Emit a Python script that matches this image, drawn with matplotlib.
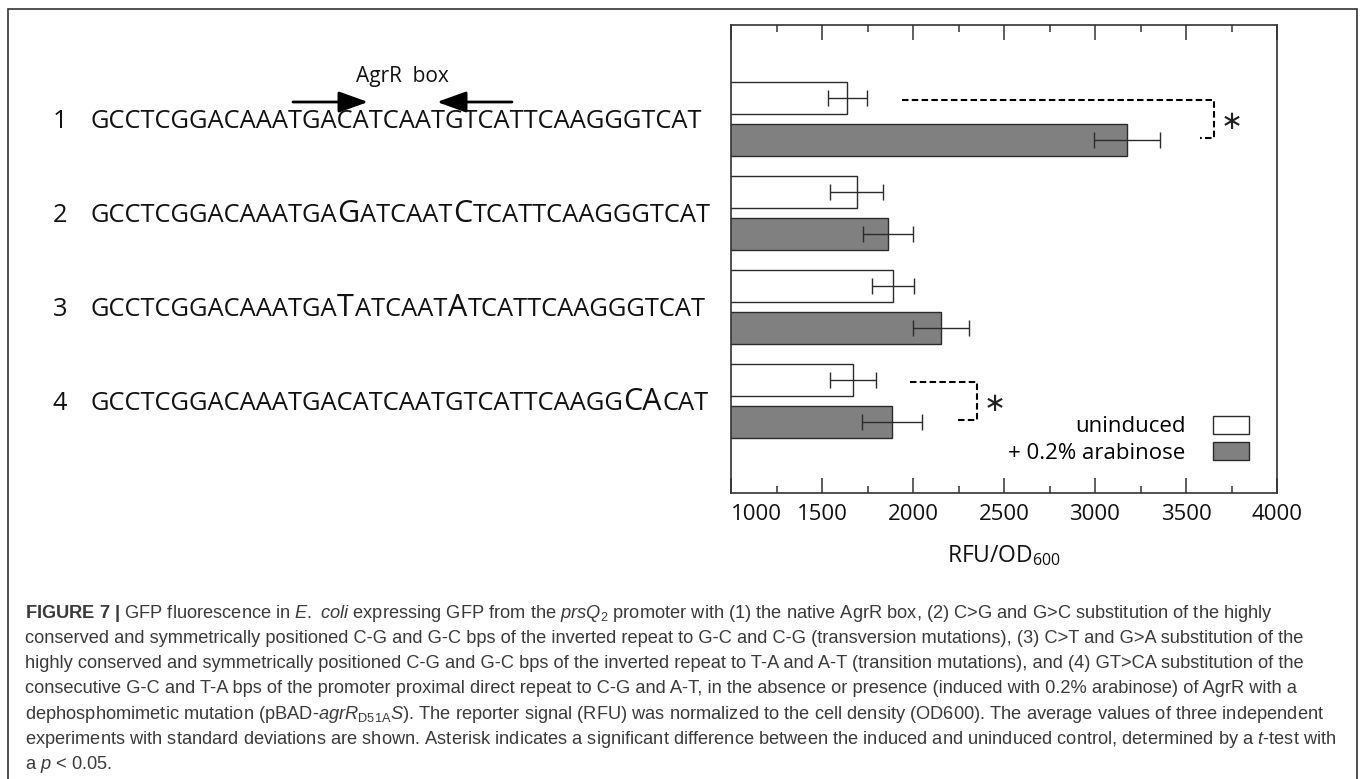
import matplotlib
matplotlib.use("Agg")
import matplotlib.pyplot as plt
import matplotlib.patches as mpatches
import matplotlib.transforms as mtransforms
from matplotlib import font_manager

# ---------------------------------------------------------------------------
# data
# ---------------------------------------------------------------------------
groups = [1, 2, 3, 4]
uninduced = [1640, 1690, 1890, 1670]
uninduced_sd = [107, 147, 117, 126]
induced = [3175, 1863, 2153, 1885]
induced_sd = [180, 138, 155, 167]

x_ticks = [1000, 1500, 2000, 2500, 3000, 3500, 4000]
x_minor = [1250, 1750, 2250, 2750, 3250, 3750]

row_labels = ["1", "2", "3", "4"]
# each row: list of (text, enlarged?) pieces
rows = [
    [("GCCTCGGACAAATGACATCAATGTCATTCAAGGGTCAT", False)],
    [("GCCTCGGACAAATGA", False), ("G", True), ("ATCAAT", False), ("C", True),
     ("TCATTCAAGGGTCAT", False)],
    [("GCCTCGGACAAATGA", False), ("T", True), ("ATCAAT", False), ("A", True),
     ("TCATTCAAGGGTCAT", False)],
    [("GCCTCGGACAAATGACATCAATGTCATTCAAGG", False), ("CA", True), ("CAT", False)],
]

# significance brackets: group, x start, x of vertical, x end of lower stub, x of star
sig = [(1, 1940, 3652, 3577, 3750), (4, 1985, 2353, 2248, 2448)]

legend_labels = ["uninduced", "+ 0.2% arabinose"]

caption = [
    r"$\mathbf{FIGURE\ 7\ |}$ GFP fluorescence in $\mathit{E.}$ $\mathit{coli}$ expressing GFP from the "
    r"$\mathit{prsQ}_{\mathrm{2}}$ promoter with (1) the native AgrR box, (2) C>G and G>C substitution of the highly",
    "conserved and symmetrically positioned C-G and G-C bps of the inverted repeat to G-C and C-G "
    "(transversion mutations), (3) C>T and G>A substitution of the",
    "highly conserved and symmetrically positioned C-G and G-C bps of the inverted repeat to T-A and A-T "
    "(transition mutations), and (4) GT>CA substitution of the",
    "consecutive G-C and T-A bps of the promoter proximal direct repeat to C-G and A-T, in the absence or "
    "presence (induced with 0.2% arabinose) of AgrR with a",
    r"dephosphomimetic mutation (pBAD-$\mathit{agrR}_{\mathrm{D51A}}\mathit{S}$). The reporter signal (RFU) "
    r"was normalized to the cell density (OD600). The average values of three independent",
    r"experiments with standard deviations are shown. Asterisk indicates a significant difference between "
    r"the induced and uninduced control, determined by a $\mathit{t}$-test with",
    r"a $\mathit{p}$ < 0.05.",
]

# ---------------------------------------------------------------------------
W, H = 1360, 779
GRAY = "#808080"
EDGE = "#2b2b2b"
seq_font = "Open Sans"

names = {f.name for f in font_manager.fontManager.ttflist}
cap_font = "Liberation Sans Narrow" if "Liberation Sans Narrow" in names else "Liberation Sans"
cap_size = 14 if cap_font == "Liberation Sans Narrow" else 13.15

plt.rcParams["font.family"] = [seq_font, "DejaVu Sans"]
plt.rcParams["mathtext.fontset"] = "custom"
plt.rcParams["mathtext.rm"] = cap_font
plt.rcParams["mathtext.it"] = cap_font + ":italic"
plt.rcParams["mathtext.bf"] = cap_font + ":bold"

fig = plt.figure(figsize=(W / 100, H / 100), dpi=100)
ax = fig.add_axes([731 / W, 1 - 493 / H, 546 / W, 468 / H])

off = 0.225
bh = 0.344
y_un = [g - off for g in groups]
y_in = [g + off for g in groups]

ax.barh(y_un, uninduced, height=bh, color="white", edgecolor=EDGE, linewidth=1.0, zorder=2)
ax.barh(y_in, induced, height=bh, color=GRAY, edgecolor=EDGE, linewidth=1.0, zorder=2)
ax.errorbar(uninduced, y_un, xerr=uninduced_sd, fmt="none", ecolor=EDGE,
            elinewidth=1.0, capsize=6, capthick=1.0, zorder=3)
ax.errorbar(induced, y_in, xerr=induced_sd, fmt="none", ecolor=EDGE,
            elinewidth=1.0, capsize=6, capthick=1.0, zorder=3)

# significance brackets
for g, xs, xc, xe, xstar in sig:
    ax.plot([xs, xc, xc, xe], [g - 0.2, g - 0.2, g + 0.2, g + 0.2],
            color="black", lw=1.5, linestyle=(0, (3.1, 1.6)), zorder=3)
    ax.text(xstar, g + 0.03, "\u2217", ha="center", va="center", fontsize=19,
            family="DejaVu Sans", color="#222")

ax.set_xlim(x_ticks[0], x_ticks[-1])
ax.set_ylim(4.98, 0)
ax.set_yticks([])
ax.set_xticks(x_ticks)
ax.set_xticks(x_minor, minor=True)
ax.set_xticklabels([str(t) for t in x_ticks], fontsize=16, color="#111")
ax.get_xticklabels()[0].set_horizontalalignment("left")
ax.tick_params(axis="x", which="both", direction="in", top=True, bottom=True,
               width=1.1, color="#333", pad=8)
ax.tick_params(axis="x", which="major", length=10.8)
ax.tick_params(axis="x", which="minor", length=5.2)
for s in ax.spines.values():
    s.set_linewidth(1.2)
    s.set_color("#333")
ax.set_xlabel(r"RFU/OD$_{\mathregular{600}}$", fontsize=16.5, labelpad=13, color="#111")

handles = [mpatches.Patch(facecolor="white", edgecolor=EDGE, linewidth=1.0),
           mpatches.Patch(facecolor=GRAY, edgecolor=EDGE, linewidth=1.0)]
ax.legend(handles, legend_labels, loc="lower right", bbox_to_anchor=(0.9496, 0.062),
          frameon=False, markerfirst=False, handlelength=1.62, handleheight=0.86,
          handletextpad=1.26, labelspacing=0.22, borderpad=0, borderaxespad=0,
          prop={"family": seq_font, "size": 16})

# ---------------------------------------------------------------------------
# sequences on the left, one row per group
# ---------------------------------------------------------------------------
blend = mtransforms.blended_transform_factory(fig.transFigure, ax.transData)
fs_norm, fs_big = 18.4, 22
for g, lab, segs in zip(groups, row_labels, rows):
    base = g + 0.1
    ax.text(60 / W, base, lab, transform=blend, ha="center", va="baseline",
            fontsize=fs_norm, family=seq_font, color="#111")
    prev = None
    for txt, big in segs:
        fs = fs_big if big else fs_norm
        if prev is None:
            prev = ax.text(90 / W, base, txt, transform=blend, ha="left", va="baseline",
                           fontsize=fs, family=seq_font, color="#111")
        else:
            prev = ax.annotate(txt, xy=(1, base), xycoords=(prev, blend),
                               xytext=(0.4, 0), textcoords="offset points",
                               ha="left", va="baseline", fontsize=fs,
                               family=seq_font, color="#111", annotation_clip=False)

# AgrR box label and arrows over row 1
fig.text(402 / W, 1 - 82 / H, "AgrR  box", ha="center", va="baseline",
         fontsize=15, family=seq_font, color="#111")
for x0, x1 in [(293, 368), (512, 437)]:
    fig.add_artist(mpatches.FancyArrowPatch(
        (x0 / W, 1 - 102 / H), (x1 / W, 1 - 102 / H), transform=fig.transFigure,
        arrowstyle="-|>,head_length=1.0,head_width=0.36", mutation_scale=18,
        lw=2, color="black", shrinkA=0, shrinkB=0))

# caption
for i, line in enumerate(caption):
    fig.text(25 / W, 1 - (617.5 + 25.3 * i) / H, line, ha="left", va="baseline",
             fontsize=cap_size, family=cap_font, color="#3a3a3a")

# frame round the whole figure panel
fig.add_artist(mpatches.Rectangle((8 / W, -0.05), (1357 - 8) / W, 1.05 - 9 / H,
                                  transform=fig.transFigure, fill=False,
                                  lw=1.2, ec="#333"))

fig.savefig("out.png", dpi=100)
